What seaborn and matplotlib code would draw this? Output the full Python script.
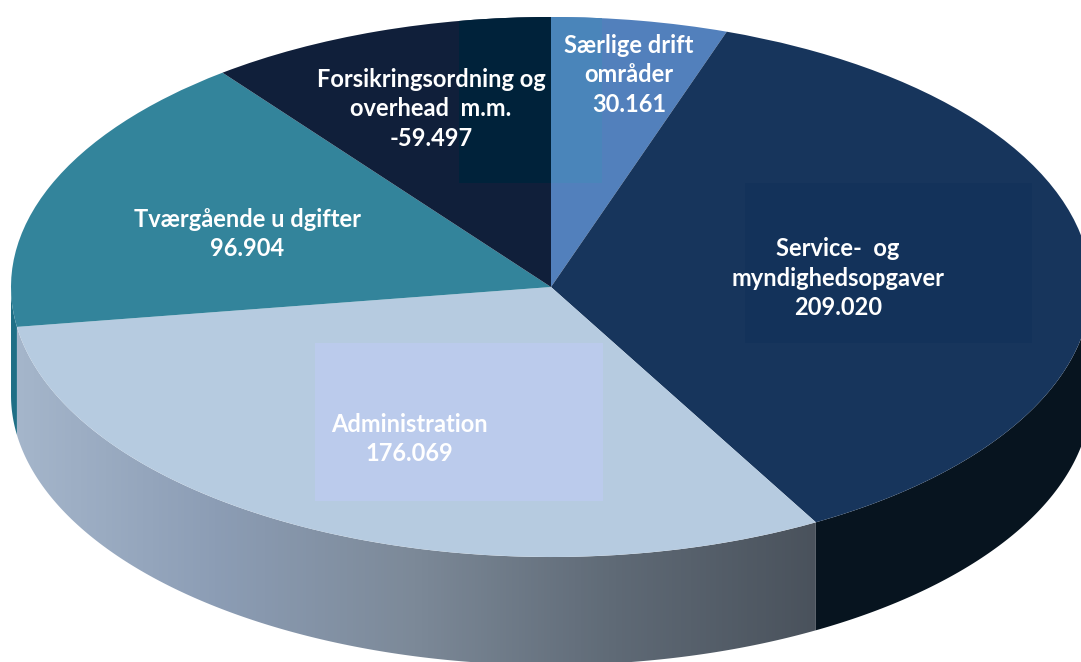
import matplotlib
matplotlib.use("Agg")
import matplotlib.pyplot as plt
import numpy as np
import seaborn as sns
from matplotlib.patches import Polygon, Rectangle

# Data
categories = ["Særlige drift\nområder", "Service-  og\nmyndighedsopgaver", "Administration",
              "Tværgående u dgifter", "Forsikringsordning og\noverhead  m.m."]
values = [30.161, 209.020, 176.069, 96.904, -59.497]

top_colors = ["#5280BC", "#17355C", "#B6CBE0", "#33849B", "#101F3A"]
side_colors = ["#3A6596", "#07141F", "#8C9DB5", "#1F6F86", "#0A1526"]
admin_side = ["#A5B6CB", "#8C9DB5", "#7C8998", "#5F6A76", "#4A525C"]

# picture is 1081x662, pie centre and radii in pixels
W, H = 1081, 662
CX, CY = 551, 287
RX = 540
SQUASH = 2.0  # ry = rx / 2
DEPTH = 108


def yd(py):
    return (CY - py) * SQUASH


def side_poly(t1, t2):
    t = np.radians(np.linspace(t1, t2, 200))
    x = CX + RX * np.cos(t)
    y = RX * np.sin(t)
    return np.r_[np.c_[x, y], np.c_[x, y - DEPTH * SQUASH][::-1]]


sns.set_theme(style="white")
plt.rcParams["font.family"] = ["Lato", "DejaVu Sans"]

fig = plt.figure(figsize=(W / 100, H / 100), dpi=100)
ax = fig.add_axes([0, 0, 1, 1])

wedges, _ = ax.pie(np.abs(values), colors=top_colors, startangle=90, counterclock=False,
                   center=(CX, 0), radius=RX, wedgeprops={"linewidth": 0}, frame=True)
for w in wedges:
    w.set_zorder(3)
ax.set_aspect("auto")

# side of the pie, only the part facing down is visible
for i, w in enumerate(wedges):
    t1, t2 = w.theta1, w.theta2
    if t1 > 180:
        t1, t2 = t1 - 360, t2 - 360
    lo, hi = max(t1, -180), min(t2, 0)
    if lo >= hi:
        continue
    if categories[i] == "Administration":
        poly = Polygon(side_poly(lo, hi), closed=True, fc="none", ec="none")
        ax.add_patch(poly)
        cmap = sns.blend_palette(admin_side, as_cmap=True)
        im = ax.imshow(np.linspace(0, 1, 256)[None, :], cmap=cmap, aspect="auto", zorder=2,
                       extent=(15, 816, yd(H), yd(0)))
        im.set_clip_path(poly)
    else:
        ax.add_patch(Polygon(side_poly(lo, hi), closed=True, fc=side_colors[i], ec="none", zorder=2))

# the lighter/darker boxes left behind the labels
boxes = [(1, 745, 183, 1032, 343, "#13325A"),
         (2, 315, 343, 603, 501, "#BBCBEC"),
         (4, 459, 15, 551, 183, "#00223A"),
         (0, 551, 15, 602, 183, "#4A85BA")]
for idx, x0, y0, x1, y1, col in boxes:
    r = Rectangle((x0, yd(y1)), x1 - x0, yd(y0) - yd(y1), fc=col, ec="none", zorder=4)
    ax.add_patch(r)
    r.set_clip_path(wedges[idx])

# labels, centre of the text block in pixels
label_xy = [(629, 75), (838, 278), (409, 439), (247, 234), (431, 109)]
for name, v, (px, py) in zip(categories, values, label_xy):
    ax.text(px, yd(py), f"{name}\n{v:.3f}", color="white", fontsize=17, fontweight="bold",
            ha="center", va="center", linespacing=1.33, zorder=6)

ax.set_xlim(0, W)
ax.set_ylim(yd(H), yd(0))
ax.set_xticks([])
ax.set_yticks([])
ax.set_frame_on(False)
fig.savefig("out.png", dpi=100, facecolor="white")
